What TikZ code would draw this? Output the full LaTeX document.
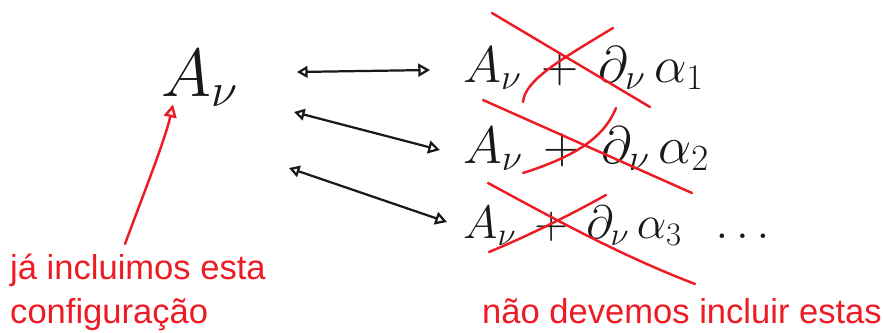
\RequirePackage{fix-cm}
\documentclass[tikz,border=0pt]{standalone}
\usepackage{fontspec}
\usepackage{tikz}
\usetikzlibrary{arrows.meta, calc}
\newfontfamily\notafont{Liberation Sans}
\definecolor{Vermelho}{RGB}{237,28,36}
\definecolor{Tinta}  {RGB}{25, 25, 25}

\begin{document}
\begin{tikzpicture}[x=0.03cm, y=-0.03cm,
    seta/.style={Tinta, line width=1.9pt, line cap=round,
      {Triangle[open,length=9pt,width=10pt]}-{Triangle[open,length=10pt,width=11pt]}},
    risco/.style={Vermelho, line width=2.1pt, line cap=round},
    nota/.style={Vermelho, font=\notafont\fontsize{29.5}{37}\selectfont, inner sep=0pt, align=left}]
      \useasboundingbox (0,0) rectangle (883,333);
      \node[Tinta, anchor=base west, inner sep=0pt, font=\fontsize{58}{58}\selectfont] (Anu) at (161,96) {$A_\nu$};
      \foreach \k/\yb/\tam/\resto in {1/82/44/{}, 2/163/45/{}, 3/238/40/{\;\;\ldots}}{
        \node[Tinta, anchor=base west, inner sep=0pt, font=\fontsize{\tam}{\tam}\selectfont]
          (termo\k) at (463,\yb) {$A_\nu\,+\,\partial_\nu\,\alpha_{\k}\resto$};
      }
      \foreach \k/\xa/\ya/\xb/\yc in {1/297/72/430/70, 2/294/112/440/150, 3/289/168/447/222}{
        \coordinate (ida\k) at (\xa,\ya);
        \coordinate (volta\k) at (\xb,\yc);
        \draw[seta] (ida\k) -- (volta\k);
      }
      \node[nota, anchor=base west] (jaIncluimos) at (10,323) {já incluimos esta\\configuração};
      \node[nota, anchor=base west] (naoDevemos) at (482,323) {não devemos incluir estas};
      \coordinate (pe) at (125,244);
      \draw[risco, -{Triangle[open,length=11pt,width=11pt]}] (pe) .. controls (145,190) and (165,140) .. ($(Anu.south west)+(12,-2)$);
      % cruzes
      \draw[risco] (492,13) -- (650,107);
      \draw[risco] (613,28) .. controls (560,60) and (525,80) .. (523,102);
      \draw[risco] (483,100) -- (692,193);
      \draw[risco] (616,108) .. controls (605,135) and (580,155) .. (523,173);
      \draw[risco] (488,183) .. controls (560,222) and (620,255) .. (695,284);
      \draw[risco] (606,195) .. controls (570,215) and (530,235) .. (489,252);
    \end{tikzpicture}
\end{document}
